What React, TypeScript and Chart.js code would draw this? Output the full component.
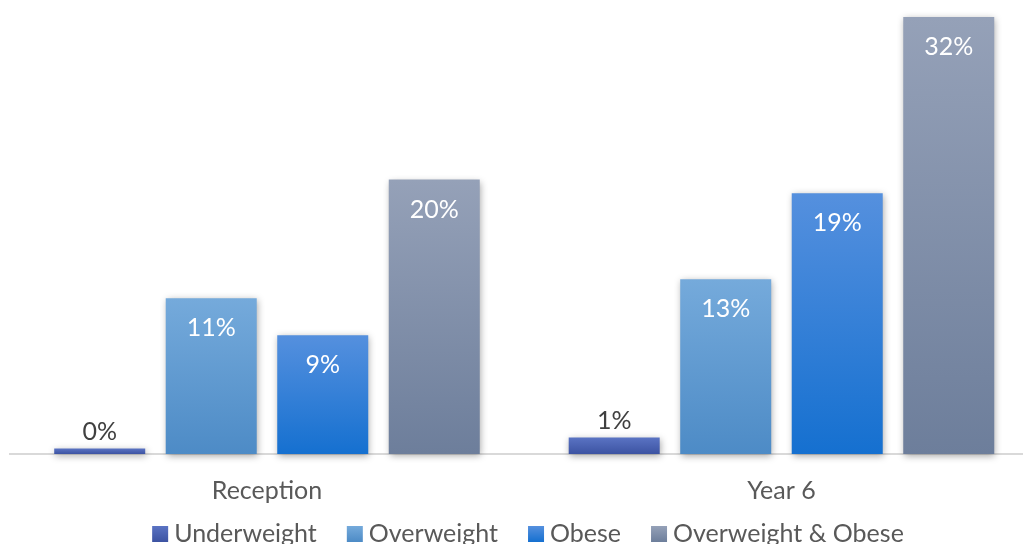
import { useEffect, useRef } from 'react';
import { Chart, registerables } from 'chart.js';

Chart.register(...registerables);

const categories = ['Reception', 'Year 6'];
const seriesNames = ['Underweight', 'Overweight', 'Obese', 'Overweight & Obese'];
const underweight = [0.4, 1.2];
const overweight = [11.4, 12.8];
const obese = [8.7, 19.1];
const overweightObese = [20.1, 32.0];
const seriesValues = [underweight, overweight, obese, overweightObese];

const colorTops = ['#5a73c3', '#75aadb', '#5590de', '#95a1b8'];
const colorBottoms = ['#3c53a2', '#4d8bc6', '#1570d0', '#6d7e9b'];

const FONT = 'Lato, sans-serif';
const FONT_SIZE = 25;
const LEGEND_CENTER_X = 528;

const shadowPlugin = {
  id: 'barShadow',
  beforeDatasetsDraw(chart: any) {
    const c = chart.ctx;
    c.save();
    c.shadowColor = 'rgba(0,0,0,0.35)';
    c.shadowBlur = 7;
    c.shadowOffsetX = 1;
    c.shadowOffsetY = 2;
  },
  afterDatasetsDraw(chart: any) {
    chart.ctx.restore();
  },
};

const dataLabelPlugin = {
  id: 'dataLabels',
  afterDatasetsDraw(chart: any) {
    const ctx = chart.ctx;
    ctx.save();
    ctx.font = `${FONT_SIZE}px ${FONT}`;
    ctx.textAlign = 'center';
    ctx.textBaseline = 'alphabetic';
    chart.data.datasets.forEach((_ds: any, di: number) => {
      const meta = chart.getDatasetMeta(di);
      meta.data.forEach((bar: any, i: number) => {
        const v = seriesValues[di][i];
        const { x, y, base } = bar.getProps(['x', 'y', 'base'], true);
        const text = `${Math.round(v)}%`;
        if (base - y > 40) {
          ctx.fillStyle = '#ffffff';
          ctx.fillText(text, x, y + 38);
        } else {
          ctx.fillStyle = '#404040';
          ctx.fillText(text, x, y - 9);
        }
      });
    });
    ctx.restore();
  },
};

const legendPlugin = {
  id: 'customLegend',
  afterDraw(chart: any) {
    const ctx = chart.ctx;
    ctx.save();
    ctx.font = `${FONT_SIZE}px ${FONT}`;
    const widths = seriesNames.map((n) => ctx.measureText(n).width);
    const box = 16;
    const gap = 6;
    const itemGap = 30;
    const total =
      widths.reduce((a, w) => a + box + gap + w, 0) + itemGap * (seriesNames.length - 1);
    let x = LEGEND_CENTER_X - total / 2;
    const baseline = 542;
    seriesNames.forEach((n, i) => {
      const g = ctx.createLinearGradient(0, baseline - box, 0, baseline);
      g.addColorStop(0, colorTops[i]);
      g.addColorStop(1, colorBottoms[i]);
      ctx.fillStyle = g;
      ctx.fillRect(x, baseline - box, box, box);
      ctx.fillStyle = '#595959';
      ctx.textAlign = 'left';
      ctx.textBaseline = 'alphabetic';
      ctx.fillText(n, x + box + gap, baseline);
      x += box + gap + widths[i] + itemGap;
    });
    ctx.restore();
  },
};

export default function App() {
  const canvasRef = useRef<HTMLCanvasElement | null>(null);

  useEffect(() => {
    if (!canvasRef.current) return;
    const datasets = seriesNames.map((name, di) => ({
      label: name,
      data: categories.map((_, i) => ({ x: i, y: seriesValues[di][i] })),
      clip: false,
      categoryPercentage: 0.867,
      barPercentage: 0.816,
      borderWidth: 0,
      backgroundColor: (c: any) => {
        const chart = c.chart;
        if (c.type !== 'data' || !chart.chartArea) return colorTops[di];
        const ys = chart.scales.y;
        const top = ys.getPixelForValue(c.raw.y);
        const bottom = ys.getPixelForValue(0);
        if (!isFinite(top) || !isFinite(bottom) || bottom - top < 0.5) return colorTops[di];
        const g = chart.ctx.createLinearGradient(0, top, 0, bottom);
        g.addColorStop(0, colorTops[di]);
        g.addColorStop(1, colorBottoms[di]);
        return g;
      },
    }));

    const chart = new Chart(canvasRef.current, {
      type: 'bar',
      data: { datasets },
      options: {
        animation: false,
        responsive: true,
        maintainAspectRatio: false,
        layout: { padding: { left: 10, right: 1, top: 0, bottom: 0 } },
        plugins: {
          legend: { display: false },
          tooltip: { enabled: false },
        },
        scales: {
          x: {
            type: 'linear',
            offset: false,
            bounds: 'data',
            min: -0.4995,
            max: 1.4675,
            afterBuildTicks: (s: any) => {
              s.ticks = categories.map((_, i) => ({ value: i }));
            },
            afterFit: (s: any) => {
              s.height = 90;
            },
            grid: { display: false, offset: false },
            border: { display: true, color: '#d9d9d9', width: 2 },
            ticks: {
              autoSkip: false,
              maxRotation: 0,
              padding: 14,
              color: '#595959',
              font: { family: FONT, size: FONT_SIZE },
              callback: (v: any) => categories[v as number] ?? '',
            },
          },
          y: {
            display: false,
            min: 0,
            max: 33.25,
          },
        },
      },
      plugins: [shadowPlugin, dataLabelPlugin, legendPlugin],
    } as any);

    return () => chart.destroy();
  }, []);

  return (
    <div
      style={{
        position: 'absolute',
        left: 0,
        top: 0,
        width: 1023,
        height: 544,
        overflow: 'hidden',
        background: '#ffffff',
      }}
    >
      <canvas ref={canvasRef} />
    </div>
  );
}
